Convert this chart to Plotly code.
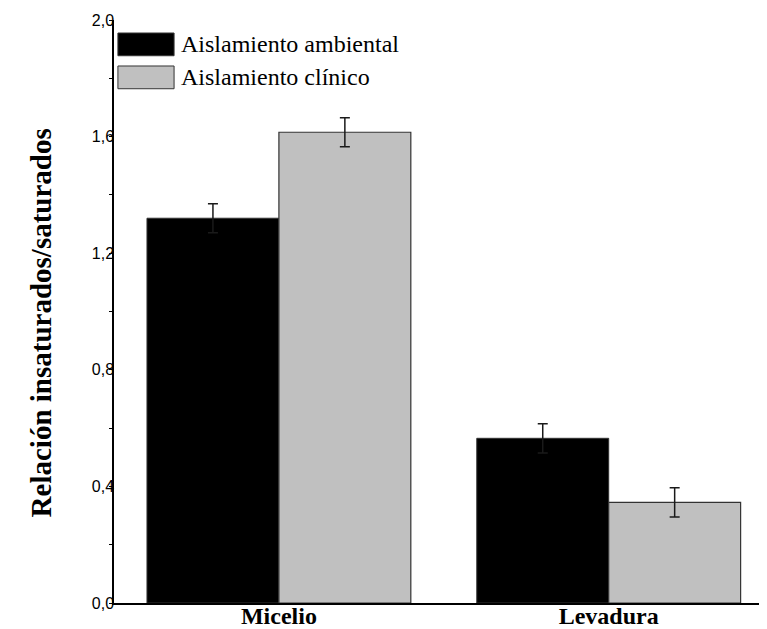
import plotly.graph_objects as go

# data
categories = ["Micelio", "Levadura"]
ambiental = [1.32, 0.565]
ambiental_err = [0.05, 0.05]
clinico = [1.615, 0.345]
clinico_err = [0.05, 0.05]
series_names = ["Aislamiento ambiental", "Aislamiento clínico"]
y_ticks = [0.0, 0.4, 0.8, 1.2, 1.6, 2.0]

fig = go.Figure()
fig.add_trace(go.Bar(x=categories, y=ambiental, name=series_names[0],
                     marker=dict(color="black", line=dict(color="#333333", width=1)),
                     error_y=dict(type="data", array=ambiental_err, color="#1a1a1a",
                                  thickness=1.5, width=5)))
fig.add_trace(go.Bar(x=categories, y=clinico, name=series_names[1],
                     marker=dict(color="#c0c0c0", line=dict(color="#333333", width=1.2)),
                     error_y=dict(type="data", array=clinico_err, color="#1a1a1a",
                                  thickness=1.5, width=5)))

# page body has an 8px margin, so the figure is a bit smaller and shifted
fig.update_layout(
    width=759, height=621,
    margin=dict(l=106, r=0, t=12, b=26),
    plot_bgcolor="white", paper_bgcolor="white",
    barmode="group", bargap=0.2, bargroupgap=0,
    separators=",.",
    showlegend=False,
)

fig.update_xaxes(range=[-0.5, 1.48], showline=True, linecolor="black", linewidth=1.5,
                 ticks="", showgrid=False, automargin=False, ticklabelstandoff=-10,
                 tickfont=dict(family="Liberation Serif", size=24, color="black", weight="bold"))
fig.update_yaxes(range=[0, 2.0], tickvals=y_ticks, tickformat=".1f",
                 showline=True, linecolor="black", linewidth=1.5,
                 ticks="", showgrid=False,
                 minor=dict(dtick=0.2, ticks="outside", ticklen=3, tickcolor="black"),
                 tickfont=dict(family="Liberation Sans", size=16, color="black"),
                 ticklabelstandoff=-5, zeroline=False, automargin=False)

# y title placed like the reference
fig.add_annotation(text="<b>Relación insaturados/saturados</b>", textangle=-90,
                   xref="paper", yref="paper", x=-0.139, y=0.48, showarrow=False,
                   font=dict(family="Liberation Serif", size=29, color="black"))

# legend drawn by hand with big swatches
swatch_colors = ["black", "#c0c0c0"]
for i, (nm, col) in enumerate(zip(series_names, swatch_colors)):
    y1 = 0.9777 - i * 0.0566
    fig.add_shape(type="rect", xref="paper", yref="paper",
                  x0=0.006, x1=0.092, y0=y1 - 0.039, y1=y1,
                  fillcolor=col, line=dict(color="#333333", width=1))
    fig.add_annotation(text=nm, xref="paper", yref="paper", x=0.0995, y=y1 - 0.0195,
                       xanchor="left", yanchor="middle", showarrow=False,
                       font=dict(family="Liberation Serif", size=24, color="black"))

fig.write_html("out.html")
